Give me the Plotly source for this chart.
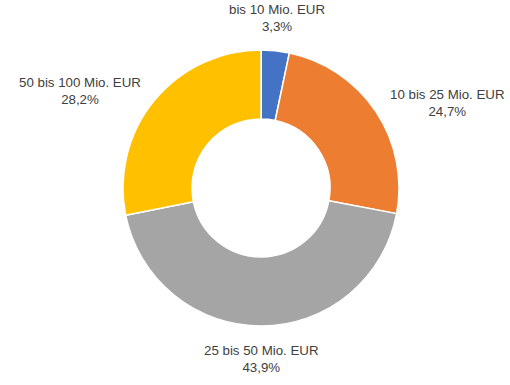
import math
import plotly.graph_objects as go

categories = ["bis 10 Mio. EUR", "10 bis 25 Mio. EUR", "25 bis 50 Mio. EUR", "50 bis 100 Mio. EUR"]
values = [3.3, 24.7, 43.9, 28.2]
colors = ["#4472C4", "#ED7D31", "#A5A5A5", "#FFC000"]

W, H = 510, 385
cx, cy, R = 261, 188, 138
hole = 0.5
gap = 15

fig = go.Figure(go.Pie(
    labels=categories, values=values, sort=False, direction="clockwise", rotation=0,
    hole=hole, marker=dict(colors=colors, line=dict(color="white", width=1.5)),
    textinfo="none", hoverinfo="label+percent", showlegend=False,
    domain=dict(x=[(cx - R) / W, (cx + R) / W], y=[1 - (cy + R) / H, 1 - (cy - R) / H]),
))

total = sum(values)
cum = 0
annotations = []
for cat, v in zip(categories, values):
    mid = (cum + v / 2) / total * 2 * math.pi
    cum += v
    s, c = math.sin(mid), math.cos(mid)
    px = cx + (R + gap) * s
    py = cy - (R + gap) * c
    xa = "left" if s > 0.5 else ("right" if s < -0.5 else "center")
    ya = "bottom" if c > 0.7 else ("top" if c < -0.7 else "middle")
    txt = f"{cat}<br>" + f"{v:.1f}".replace(".", ",") + "%"
    annotations.append(dict(x=px / W, y=1 - py / H, xref="paper", yref="paper", text=txt,
                            showarrow=False, xanchor=xa, yanchor=ya, align="center",
                            font=dict(family="Liberation Sans, Arial, sans-serif", size=13.3, color="#404040")))

fig.update_layout(width=W, height=H, margin=dict(l=0, r=0, t=0, b=0),
                  paper_bgcolor="white", plot_bgcolor="white", annotations=annotations)
fig.write_html("out.html")
